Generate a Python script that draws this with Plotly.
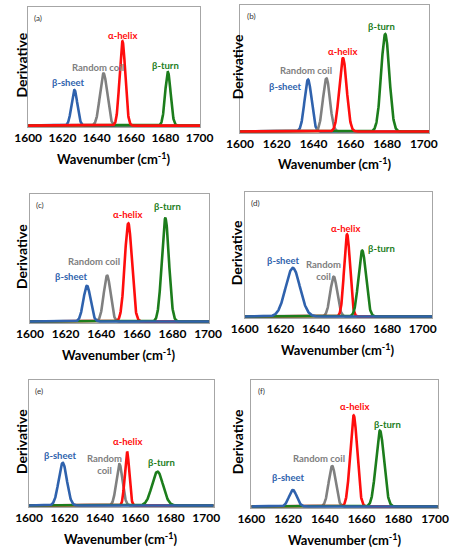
import numpy as np
import plotly.graph_objects as go

# ── Data ────────────────────────────────────────────────────────────────────
panel_tags = ["(a)", "(b)", "(c)", "(d)", "(e)", "(f)"]
structures = ["β-sheet", "Random coil", "α-helix", "β-turn"]

# band position (cm-1), height (fraction of frame), gaussian sigma (cm-1)
peak_centers = [
    [1627.0, 1644.0, 1655.0, 1681.5],
    [1637.0, 1647.0, 1656.0, 1679.0],
    [1632.0, 1643.3, 1655.2, 1676.0],
    [1627.0, 1650.0, 1657.5, 1666.0],
    [1619.0, 1651.0, 1655.3, 1672.5],
    [1622.6, 1644.0, 1655.7, 1670.0],
]
peak_heights = [
    [0.30, 0.44, 0.71, 0.45],
    [0.41, 0.42, 0.58, 0.77],
    [0.28, 0.36, 0.77, 0.81],
    [0.39, 0.32, 0.66, 0.53],
    [0.34, 0.33, 0.43, 0.27],
    [0.13, 0.32, 0.72, 0.60],
]
peak_sigmas = [
    [1.7, 2.1, 1.65, 1.6],
    [1.9, 1.9, 2.0, 2.2],
    [2.0, 1.9, 2.0, 2.0],
    [4.0, 1.95, 1.65, 2.1],
    [2.3, 1.75, 1.25, 3.1],
    [2.1, 1.9, 1.9, 2.2],
]

# where each band name sits
label_x = [
    [1623.5, 1641.0, 1655.0, 1680.0],
    [1625.0, 1636.0, 1656.0, 1677.0],
    [1623.5, 1636.0, 1655.0, 1677.0],
    [1622.0, 1644.0, 1656.5, 1677.0],
    [1618.0, 1642.7, 1655.8, 1675.0],
    [1620.0, 1637.0, 1656.0, 1674.0],
]
label_y = [
    [0.36, 0.49, 0.76, 0.51],
    [0.355, 0.48, 0.63, 0.83],
    [0.35, 0.47, 0.84, 0.90],
    [0.45, 0.37, 0.71, 0.545],
    [0.40, 0.33, 0.51, 0.34],
    [0.23, 0.38, 0.79, 0.65],
]

tick_vals = [1600, 1620, 1640, 1660, 1680, 1700]
# x extent covered by each framed plot area
x_ranges = [
    [1600.0, 1700.5],
    [1600.0, 1703.0],
    [1600.0, 1700.5],
    [1600.0, 1705.3],
    [1600.0, 1704.2],
    [1600.0, 1701.5],
]

# ── Styling ─────────────────────────────────────────────────────────────────
W, H = 464, 550
colors = ["#2f62ad", "#808080", "#ff0d0d", "#1c7d1c"]
FONT = "Lato"

# plot-area boxes in pixels: x0, x1, y0 (top), y1 (bottom)
boxes = [
    (15, 198, 7, 127),
    (240, 441, 5, 133),
    (17, 207, 194, 323),
    (245, 444, 192, 318),
    (16, 212, 380, 507),
    (252, 450, 380, 508),
]
# blue is drawn last (on top) except in (a) and (b) where red is on top
draw_orders = [[0, 1, 3, 2], [0, 1, 3, 2], [1, 2, 3, 0],
               [1, 2, 3, 0], [1, 2, 3, 0], [1, 2, 3, 0]]

fig = go.Figure()
layout = dict(width=W, height=H, margin=dict(l=0, r=0, t=0, b=0),
              paper_bgcolor="white", plot_bgcolor="white", showlegend=False)
annotations = []

for p, (x0, x1, y0, y1) in enumerate(boxes):
    n = "" if p == 0 else str(p + 1)
    xa, ya = "x" + n, "y" + n
    lo, hi = x_ranges[p]
    x_grid = np.linspace(lo, hi, 801)
    for k in draw_orders[p]:
        c, h, s = peak_centers[p][k], peak_heights[p][k], peak_sigmas[p][k]
        y = h * np.exp(-0.5 * ((x_grid - c) / s) ** 2)
        fig.add_trace(go.Scatter(x=x_grid, y=y, mode="lines", xaxis=xa, yaxis=ya,
                                 line=dict(color=colors[k], width=2.6),
                                 hoverinfo="skip"))
    for k, name in enumerate(structures):
        txt = name
        if name == "Random coil" and p in (3, 4):
            txt = "Random<br>coil"
        annotations.append(dict(x=label_x[p][k], y=label_y[p][k], xref=xa, yref=ya,
                                text=txt, showarrow=False,
                                xanchor="center", yanchor="middle",
                                font=dict(family=FONT, size=9.5, color=colors[k],
                                          weight="bold")))
    annotations.append(dict(x=lo + 2.5, y=0.97, xref=xa, yref=ya, text=panel_tags[p],
                            showarrow=False, xanchor="left", yanchor="top",
                            font=dict(family=FONT, size=8, color="#333333")))

    layout["xaxis" + n] = dict(
        domain=[x0 / W, x1 / W], anchor=ya, range=[lo, hi],
        tickvals=tick_vals, ticks="", showgrid=False, zeroline=False,
        showline=True, linecolor="#a6a6a6", linewidth=1, mirror=True,
        ticklabelstandoff=0,
        tickfont=dict(family=FONT, size=12, color="black", weight="bold"))
    layout["yaxis" + n] = dict(
        domain=[1 - y1 / H, 1 - y0 / H], anchor=xa, range=[-0.012, 1],
        showticklabels=False, ticks="", showgrid=False, zeroline=False,
        showline=True, linecolor="#a6a6a6", linewidth=1, mirror=True)

    # axis titles
    left_col = p % 2 == 0
    annotations.append(dict(x=(8 if left_col else 237) / W, y=1 - ((y0 + y1) / 2 - 2) / H,
                            xref="paper", yref="paper", text="Derivative",
                            showarrow=False, textangle=-90,
                            xanchor="center", yanchor="middle",
                            font=dict(family=FONT, size=14, color="black", weight="bold")))
    annotations.append(dict(x=(x0 + x1) / 2 / W, y=1 - (y1 + 31) / H,
                            xref="paper", yref="paper",
                            text="Wavenumber (cm<sup>-1</sup>)", showarrow=False,
                            xanchor="center", yanchor="middle",
                            font=dict(family=FONT, size=13, color="black", weight="bold")))

layout["annotations"] = annotations
fig.update_layout(**layout)
fig.write_html("out.html", config={"displayModeBar": False},
               post_script="document.body.style.margin='0';")
